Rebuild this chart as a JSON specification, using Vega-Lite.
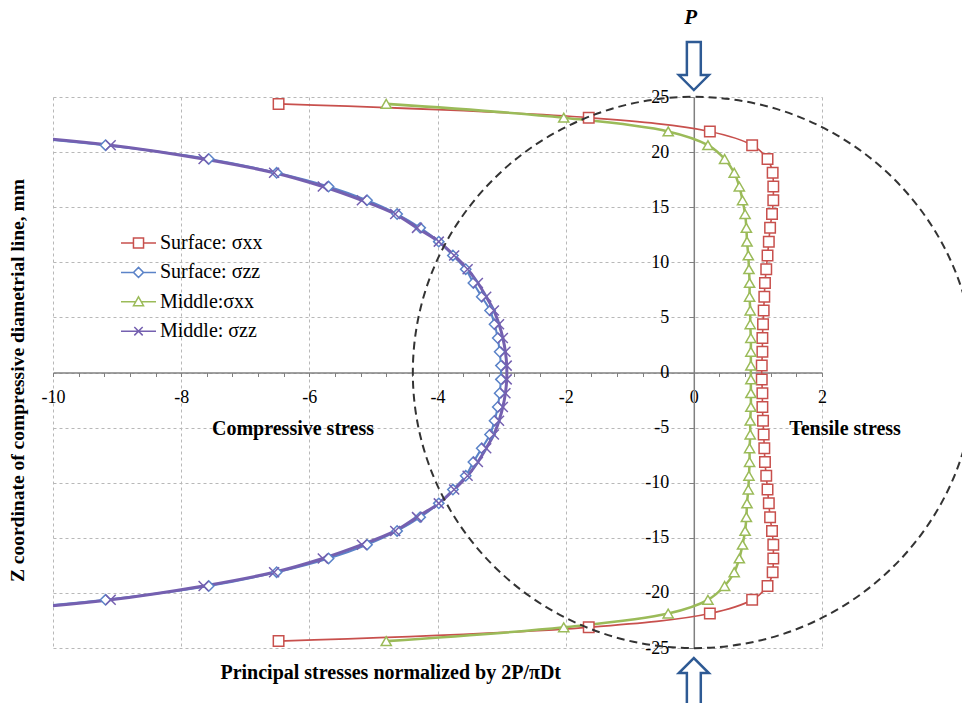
{
  "$schema": "https://vega.github.io/schema/vega-lite/v6.json",
  "width": 769,
  "height": 551,
  "autosize": {"type": "none"},
  "padding": {"left": 53, "top": 97, "right": 140, "bottom": 55},
  "background": "white",
  "config": {
    "view": {"stroke": null},
    "font": "Liberation Serif",
    "legend": {"labelFont": "Liberation Serif", "labelFontSize": 20, "labelColor": "#000000"}
  },
  "resolve": {"scale": {"shape": "independent", "stroke": "independent", "size": "independent"}},
  "datasets": {
    "stress": [
      {"s": "Surface: σxx", "y": -24.375, "x": -6.48}, {"s": "Surface: σxx", "y": -23.125, "x": -1.64}, {"s": "Surface: σxx", "y": -21.875, "x": 0.25}, {"s": "Surface: σxx", "y": -20.625, "x": 0.91}, {"s": "Surface: σxx", "y": -19.375, "x": 1.15}, {"s": "Surface: σxx", "y": -18.125, "x": 1.23}, {"s": "Surface: σxx", "y": -16.875, "x": 1.24}, {"s": "Surface: σxx", "y": -15.625, "x": 1.24}, {"s": "Surface: σxx", "y": -14.375, "x": 1.22}, {"s": "Surface: σxx", "y": -13.125, "x": 1.19}, {"s": "Surface: σxx", "y": -11.875, "x": 1.17}, {"s": "Surface: σxx", "y": -10.625, "x": 1.15}, {"s": "Surface: σxx", "y": -9.375, "x": 1.13}, {"s": "Surface: σxx", "y": -8.125, "x": 1.11}, {"s": "Surface: σxx", "y": -6.875, "x": 1.10}, {"s": "Surface: σxx", "y": -5.625, "x": 1.09}, {"s": "Surface: σxx", "y": -4.375, "x": 1.08}, {"s": "Surface: σxx", "y": -3.125, "x": 1.07}, {"s": "Surface: σxx", "y": -1.875, "x": 1.07}, {"s": "Surface: σxx", "y": -0.625, "x": 1.06},
      {"s": "Surface: σxx", "y": 0.625, "x": 1.06}, {"s": "Surface: σxx", "y": 1.875, "x": 1.07}, {"s": "Surface: σxx", "y": 3.125, "x": 1.07}, {"s": "Surface: σxx", "y": 4.375, "x": 1.08}, {"s": "Surface: σxx", "y": 5.625, "x": 1.09}, {"s": "Surface: σxx", "y": 6.875, "x": 1.10}, {"s": "Surface: σxx", "y": 8.125, "x": 1.11}, {"s": "Surface: σxx", "y": 9.375, "x": 1.13}, {"s": "Surface: σxx", "y": 10.625, "x": 1.15}, {"s": "Surface: σxx", "y": 11.875, "x": 1.17}, {"s": "Surface: σxx", "y": 13.125, "x": 1.19}, {"s": "Surface: σxx", "y": 14.375, "x": 1.22}, {"s": "Surface: σxx", "y": 15.625, "x": 1.24}, {"s": "Surface: σxx", "y": 16.875, "x": 1.24}, {"s": "Surface: σxx", "y": 18.125, "x": 1.23}, {"s": "Surface: σxx", "y": 19.375, "x": 1.15}, {"s": "Surface: σxx", "y": 20.625, "x": 0.91}, {"s": "Surface: σxx", "y": 21.875, "x": 0.25}, {"s": "Surface: σxx", "y": 23.125, "x": -1.64}, {"s": "Surface: σxx", "y": 24.375, "x": -6.48},

      {"s": "Surface: σzz", "y": -23.125, "x": -15.5}, {"s": "Surface: σzz", "y": -21.875, "x": -11.6}, {"s": "Surface: σzz", "y": -20.625, "x": -9.18}, {"s": "Surface: σzz", "y": -19.375, "x": -7.57}, {"s": "Surface: σzz", "y": -18.125, "x": -6.51}, {"s": "Surface: σzz", "y": -16.875, "x": -5.70}, {"s": "Surface: σzz", "y": -15.625, "x": -5.10}, {"s": "Surface: σzz", "y": -14.375, "x": -4.63}, {"s": "Surface: σzz", "y": -13.125, "x": -4.27}, {"s": "Surface: σzz", "y": -11.875, "x": -3.98}, {"s": "Surface: σzz", "y": -10.625, "x": -3.76}, {"s": "Surface: σzz", "y": -9.375, "x": -3.56}, {"s": "Surface: σzz", "y": -8.125, "x": -3.44}, {"s": "Surface: σzz", "y": -6.875, "x": -3.31}, {"s": "Surface: σzz", "y": -5.625, "x": -3.18}, {"s": "Surface: σzz", "y": -4.375, "x": -3.11}, {"s": "Surface: σzz", "y": -3.125, "x": -3.06}, {"s": "Surface: σzz", "y": -1.875, "x": -3.03}, {"s": "Surface: σzz", "y": -0.625, "x": -3.01},
      {"s": "Surface: σzz", "y": 0.625, "x": -3.01}, {"s": "Surface: σzz", "y": 1.875, "x": -3.03}, {"s": "Surface: σzz", "y": 3.125, "x": -3.06}, {"s": "Surface: σzz", "y": 4.375, "x": -3.11}, {"s": "Surface: σzz", "y": 5.625, "x": -3.18}, {"s": "Surface: σzz", "y": 6.875, "x": -3.31}, {"s": "Surface: σzz", "y": 8.125, "x": -3.44}, {"s": "Surface: σzz", "y": 9.375, "x": -3.56}, {"s": "Surface: σzz", "y": 10.625, "x": -3.76}, {"s": "Surface: σzz", "y": 11.875, "x": -3.98}, {"s": "Surface: σzz", "y": 13.125, "x": -4.27}, {"s": "Surface: σzz", "y": 14.375, "x": -4.63}, {"s": "Surface: σzz", "y": 15.625, "x": -5.10}, {"s": "Surface: σzz", "y": 16.875, "x": -5.70}, {"s": "Surface: σzz", "y": 18.125, "x": -6.51}, {"s": "Surface: σzz", "y": 19.375, "x": -7.57}, {"s": "Surface: σzz", "y": 20.625, "x": -9.18}, {"s": "Surface: σzz", "y": 21.875, "x": -11.6}, {"s": "Surface: σzz", "y": 23.125, "x": -15.5},

      {"s": "Middle:σxx", "y": -24.375, "x": -4.80}, {"s": "Middle:σxx", "y": -23.125, "x": -2.03}, {"s": "Middle:σxx", "y": -21.875, "x": -0.40}, {"s": "Middle:σxx", "y": -20.625, "x": 0.22}, {"s": "Middle:σxx", "y": -19.375, "x": 0.48}, {"s": "Middle:σxx", "y": -18.125, "x": 0.63}, {"s": "Middle:σxx", "y": -16.875, "x": 0.71}, {"s": "Middle:σxx", "y": -15.625, "x": 0.76}, {"s": "Middle:σxx", "y": -14.375, "x": 0.80}, {"s": "Middle:σxx", "y": -13.125, "x": 0.82}, {"s": "Middle:σxx", "y": -11.875, "x": 0.83}, {"s": "Middle:σxx", "y": -10.625, "x": 0.85}, {"s": "Middle:σxx", "y": -9.375, "x": 0.86}, {"s": "Middle:σxx", "y": -8.125, "x": 0.87}, {"s": "Middle:σxx", "y": -6.875, "x": 0.87}, {"s": "Middle:σxx", "y": -5.625, "x": 0.88}, {"s": "Middle:σxx", "y": -4.375, "x": 0.88}, {"s": "Middle:σxx", "y": -3.125, "x": 0.89}, {"s": "Middle:σxx", "y": -1.875, "x": 0.89}, {"s": "Middle:σxx", "y": -0.625, "x": 0.89},
      {"s": "Middle:σxx", "y": 0.625, "x": 0.89}, {"s": "Middle:σxx", "y": 1.875, "x": 0.89}, {"s": "Middle:σxx", "y": 3.125, "x": 0.89}, {"s": "Middle:σxx", "y": 4.375, "x": 0.88}, {"s": "Middle:σxx", "y": 5.625, "x": 0.88}, {"s": "Middle:σxx", "y": 6.875, "x": 0.87}, {"s": "Middle:σxx", "y": 8.125, "x": 0.87}, {"s": "Middle:σxx", "y": 9.375, "x": 0.86}, {"s": "Middle:σxx", "y": 10.625, "x": 0.85}, {"s": "Middle:σxx", "y": 11.875, "x": 0.83}, {"s": "Middle:σxx", "y": 13.125, "x": 0.82}, {"s": "Middle:σxx", "y": 14.375, "x": 0.80}, {"s": "Middle:σxx", "y": 15.625, "x": 0.76}, {"s": "Middle:σxx", "y": 16.875, "x": 0.71}, {"s": "Middle:σxx", "y": 18.125, "x": 0.63}, {"s": "Middle:σxx", "y": 19.375, "x": 0.48}, {"s": "Middle:σxx", "y": 20.625, "x": 0.22}, {"s": "Middle:σxx", "y": 21.875, "x": -0.40}, {"s": "Middle:σxx", "y": 23.125, "x": -2.03}, {"s": "Middle:σxx", "y": 24.375, "x": -4.80},

      {"s": "Middle: σzz", "y": -23.125, "x": -15.3}, {"s": "Middle: σzz", "y": -21.875, "x": -11.5}, {"s": "Middle: σzz", "y": -20.625, "x": -9.10}, {"s": "Middle: σzz", "y": -19.375, "x": -7.65}, {"s": "Middle: σzz", "y": -18.125, "x": -6.55}, {"s": "Middle: σzz", "y": -16.875, "x": -5.79}, {"s": "Middle: σzz", "y": -15.625, "x": -5.18}, {"s": "Middle: σzz", "y": -14.375, "x": -4.66}, {"s": "Middle: σzz", "y": -13.125, "x": -4.32}, {"s": "Middle: σzz", "y": -11.875, "x": -3.98}, {"s": "Middle: σzz", "y": -10.625, "x": -3.74}, {"s": "Middle: σzz", "y": -9.375, "x": -3.53}, {"s": "Middle: σzz", "y": -8.125, "x": -3.37}, {"s": "Middle: σzz", "y": -6.875, "x": -3.24}, {"s": "Middle: σzz", "y": -5.625, "x": -3.12}, {"s": "Middle: σzz", "y": -4.375, "x": -3.04}, {"s": "Middle: σzz", "y": -3.125, "x": -2.98}, {"s": "Middle: σzz", "y": -1.875, "x": -2.94}, {"s": "Middle: σzz", "y": -0.625, "x": -2.92},
      {"s": "Middle: σzz", "y": 0.625, "x": -2.92}, {"s": "Middle: σzz", "y": 1.875, "x": -2.94}, {"s": "Middle: σzz", "y": 3.125, "x": -2.98}, {"s": "Middle: σzz", "y": 4.375, "x": -3.04}, {"s": "Middle: σzz", "y": 5.625, "x": -3.12}, {"s": "Middle: σzz", "y": 6.875, "x": -3.24}, {"s": "Middle: σzz", "y": 8.125, "x": -3.37}, {"s": "Middle: σzz", "y": 9.375, "x": -3.53}, {"s": "Middle: σzz", "y": 10.625, "x": -3.74}, {"s": "Middle: σzz", "y": 11.875, "x": -3.98}, {"s": "Middle: σzz", "y": 13.125, "x": -4.32}, {"s": "Middle: σzz", "y": 14.375, "x": -4.66}, {"s": "Middle: σzz", "y": 15.625, "x": -5.18}, {"s": "Middle: σzz", "y": 16.875, "x": -5.79}, {"s": "Middle: σzz", "y": 18.125, "x": -6.55}, {"s": "Middle: σzz", "y": 19.375, "x": -7.65}, {"s": "Middle: σzz", "y": 20.625, "x": -9.10}, {"s": "Middle: σzz", "y": 21.875, "x": -11.5}, {"s": "Middle: σzz", "y": 23.125, "x": -15.3}
    ]
  },
  "encoding": {
    "x": {
      "field": "x", "type": "quantitative",
      "scale": {"domain": [-10, 2], "nice": false, "zero": false},
      "axis": {
        "title": null,
        "values": [-10, -9.6, -9.2, -8.8, -8.4, -8, -7.6, -7.2, -6.8, -6.4, -6, -5.6, -5.2, -4.8, -4.4, -4, -3.6, -3.2, -2.8, -2.4, -2, -1.6, -1.2, -0.8, -0.4, 0, 0.4, 0.8, 1.2, 1.6, 2],
        "labelExpr": "datum.value % 2 === 0 ? datum.value + '' : ''",
        "offset": -275.5,
        "grid": true,
        "gridColor": "#b8b8b8", "gridDash": [3, 3], "gridWidth": 1,
        "gridOpacity": {"condition": {"test": "datum.value % 2 === 0", "value": 1}, "value": 0},
        "domainColor": "#808080", "domainWidth": 1.5,
        "tickColor": "#808080", "tickSize": 4, "tickWidth": 1,
        "labelFont": "Liberation Serif", "labelFontSize": 18, "labelColor": "#000000",
        "labelPadding": 12, "labelFlush": false, "labelOverlap": false
      }
    },
    "y": {
      "field": "y", "type": "quantitative",
      "scale": {"domain": [-25, 25], "nice": false, "zero": false},
      "axis": {
        "title": null,
        "values": [-25, -20, -15, -10, -5, 0, 5, 10, 15, 20, 25],
        "labelExpr": "datum.value + ''",
        "offset": -640.8,
        "grid": true,
        "gridColor": "#b8b8b8", "gridDash": [3, 3], "gridWidth": 1,
        "domainColor": "#808080", "domainWidth": 1.5,
        "tickColor": "#808080", "tickSize": 5, "tickWidth": 1,
        "labelFont": "Liberation Serif", "labelFontSize": 18, "labelColor": "#000000",
        "labelPadding": 20, "labelFlush": false, "labelOverlap": false
      }
    }
  },
  "layer": [
    {
      "data": {"name": "stress"},
      "mark": {"type": "line", "interpolate": "catmull-rom", "clip": true},
      "encoding": {
        "order": {"field": "y", "type": "quantitative"},
        "stroke": {
          "field": "s", "type": "nominal",
          "scale": {"domain": ["Surface: σxx", "Surface: σzz", "Middle:σxx", "Middle: σzz"], "range": ["#C8504D", "#5B83C8", "#9BBB59", "#7560B0"]},
          "legend": null
        },
        "strokeWidth": {"field": "s", "type": "nominal", "scale": {"domain": ["Surface: σxx", "Surface: σzz", "Middle:σxx", "Middle: σzz"], "range": [1.6, 3, 1.6, 2]}, "legend": null}
      }
    },
    {
      "data": {"name": "stress"},
      "mark": {"type": "point", "filled": true, "fill": "white", "strokeWidth": 1.5, "opacity": 1, "clip": true},
      "encoding": {
        "stroke": {
          "field": "s", "type": "nominal",
          "scale": {"domain": ["Surface: σxx", "Surface: σzz", "Middle:σxx", "Middle: σzz"], "range": ["#C8504D", "#5B83C8", "#9BBB59", "#7560B0"]},
          "legend": null
        },
        "shape": {"field": "s", "type": "nominal", "scale": {"domain": ["Surface: σxx", "Surface: σzz", "Middle:σxx", "Middle: σzz"], "range": ["square", "diamond", "triangle-up", "M -1 -1 L 1 1 M -1 1 L 1 -1"]}, "legend": null},
        "size": {"field": "s", "type": "nominal", "scale": {"domain": ["Surface: σxx", "Surface: σzz", "Middle:σxx", "Middle: σzz"], "range": [110, 100, 100, 90]}, "legend": null}
      }
    },
    {
      "data": {"name": "stress"},
      "transform": [{"filter": "false"}],
      "mark": {"type": "point", "filled": true, "fill": "white", "strokeWidth": 1.5, "opacity": 1},
      "encoding": {
        "stroke": {
          "field": "s", "type": "nominal",
          "scale": {"domain": ["Surface: σxx", "Surface: σzz", "Middle:σxx", "Middle: σzz"], "range": ["#C8504D", "#5B83C8", "#9BBB59", "#7560B0"]},
          "legend": {
            "title": null, "orient": "none", "legendX": 70.5, "legendY": 131,
            "padding": 0, "symbolSize": 784, "rowPadding": 4.4, "labelOffset": 6.5,
            "labelFont": "Liberation Serif", "labelFontSize": 20, "labelColor": "#000000",
            "symbolStrokeWidth": 1.5, "symbolFillColor": "white", "symbolOpacity": 1
          }
        },
        "shape": {
          "field": "s", "type": "nominal",
          "scale": {"domain": ["Surface: σxx", "Surface: σzz", "Middle:σxx", "Middle: σzz"], "range": [
            "M -1.25 0 L -0.36 0 M 0.36 0 L 1.25 0 M -0.36 -0.36 L 0.36 -0.36 L 0.36 0.36 L -0.36 0.36 Z",
            "M -1.25 0 L -0.36 0 M 0.36 0 L 1.25 0 M 0 -0.36 L 0.36 0 L 0 0.36 L -0.36 0 Z",
            "M -1.25 0 L -0.2 0 M 0.2 0 L 1.25 0 M 0 -0.36 L 0.36 0.28 L -0.36 0.28 Z",
            "M -1.25 0 L 1.25 0 M -0.3 -0.3 L 0.3 0.3 M -0.3 0.3 L 0.3 -0.3"
          ]},
          "legend": {
            "title": null, "orient": "none", "legendX": 70.5, "legendY": 131,
            "padding": 0, "symbolSize": 784, "rowPadding": 4.4, "labelOffset": 6.5,
            "labelFont": "Liberation Serif", "labelFontSize": 20, "labelColor": "#000000",
            "symbolStrokeWidth": 1.5, "symbolFillColor": "white", "symbolOpacity": 1
          }
        }
      }
    },
    {
      "data": {"values": [{"x": 0, "y": 0}]},
      "mark": {"type": "point", "shape": "M 1 0 A 1 0.981 0 1 1 -1 0 A 1 0.981 0 1 1 1 0 Z", "size": 315844, "filled": false, "stroke": "#333333", "strokeWidth": 2, "strokeDash": [8, 5], "opacity": 1}
    },
    {
      "data": {"values": [{"x": 0, "y": 27.81}]},
      "mark": {"type": "point", "shape": "M -0.29 -1 L 0.29 -1 L 0.29 0.375 L 0.625 0.375 L 0 1 L -0.625 0.375 L -0.29 0.375 Z", "size": 2304, "filled": true, "fill": "white", "stroke": "#2E5A94", "strokeWidth": 2.5, "opacity": 1}
    },
    {
      "data": {"values": [{"x": 0, "y": -28.09}]},
      "mark": {"type": "point", "shape": "M -0.29 1 L 0.29 1 L 0.29 -0.375 L 0.625 -0.375 L 0 -1 L -0.625 -0.375 L -0.29 -0.375 Z", "size": 2304, "filled": true, "fill": "white", "stroke": "#2E5A94", "strokeWidth": 2.5, "opacity": 1}
    },
    {
      "data": {"values": [
        {"x": -6.255, "y": -5.15, "t": "Compressive stress"},
        {"x": 2.36, "y": -5.15, "t": "Tensile stress"},
        {"x": -4.73, "y": -27.27, "t": "Principal stresses normalized by 2P/πDt"}
      ]},
      "mark": {"type": "text", "font": "Liberation Serif", "fontSize": 20, "fontWeight": "bold", "color": "#000000", "align": "center", "baseline": "middle"},
      "encoding": {"text": {"field": "t"}}
    },
    {
      "data": {"values": [{"x": -10.54, "y": -0.73, "t": "Z coordinate of compressive diametrial line, mm"}]},
      "mark": {"type": "text", "font": "Liberation Serif", "fontSize": 19.5, "fontWeight": "bold", "color": "#000000", "align": "center", "baseline": "middle", "angle": 270},
      "encoding": {"text": {"field": "t"}}
    },
    {
      "data": {"values": [{"x": -0.05, "y": 32.17, "t": "P"}]},
      "mark": {"type": "text", "font": "Liberation Serif", "fontSize": 21, "fontWeight": "bold", "fontStyle": "italic", "color": "#000000", "align": "center", "baseline": "middle"},
      "encoding": {"text": {"field": "t"}}
    }
  ]
}
